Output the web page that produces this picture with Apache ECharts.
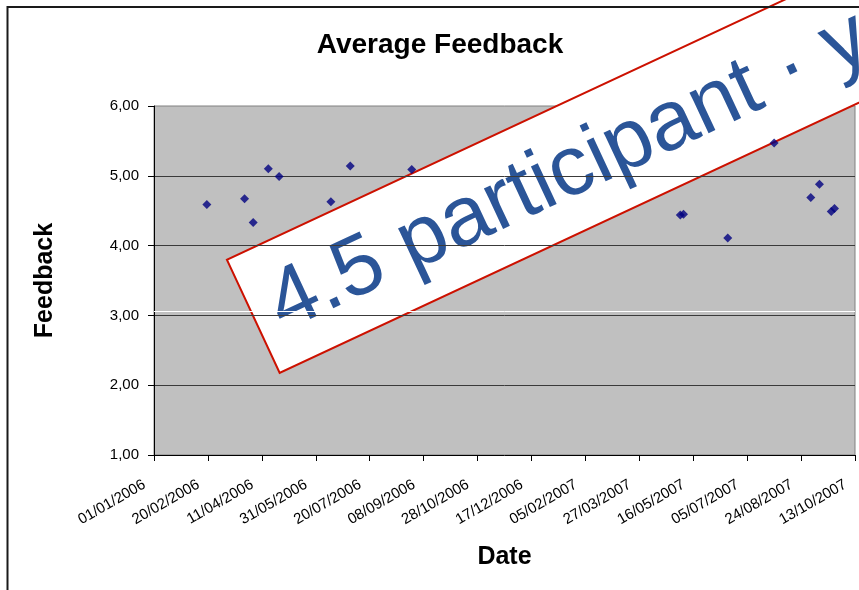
<!DOCTYPE html>
<html>
<head>
<meta charset="utf-8">
<script src="https://cdn.jsdelivr.net/npm/echarts@6/dist/echarts.min.js"></script>
<style>
html,body{margin:0;padding:0;background:#fff;}
#chart{width:859px;height:590px;}
</style>
</head>
<body>
<div id="chart"></div>
<script>
// ---- data ----
const dates = ['2006-02-19','2006-03-26','2006-04-03','2006-04-17','2006-04-27','2006-06-14','2006-07-02','2006-08-28','2007-05-04','2007-05-07','2007-06-17','2007-07-30','2007-09-02','2007-09-10','2007-09-21','2007-09-24'];
const feedback = [4.59,4.67,4.33,5.10,4.99,4.63,5.14,5.09,4.44,4.45,4.11,5.47,4.69,4.88,4.49,4.53];
const xStartDate = '2006-01-01';
const xEndDate = '2007-10-13';
const xStepDays = 50;
const yMin = 1, yMax = 6, yStep = 1;
const titleText = 'Average Feedback';
const xName = 'Date';
const yName = 'Feedback';
const overlayText = '4.5 participant · y';
const whiteLineValue = 3.06;

// ---- helpers ----
const DAY = 86400000;
function parseUTC(s){ const p = s.split('-').map(Number); return Date.UTC(p[0], p[1]-1, p[2]); }
const origin = parseUTC(xStartDate);
function toDay(s){ return Math.round((parseUTC(s) - origin) / DAY); }
function fmtDay(d){
  const t = new Date(origin + d * DAY);
  const dd = String(t.getUTCDate()).padStart(2,'0');
  const mm = String(t.getUTCMonth()+1).padStart(2,'0');
  return dd + '/' + mm + '/' + t.getUTCFullYear();
}
const points = dates.map((d,i) => [toDay(d), feedback[i]]);
const FONT = '"Liberation Sans", Arial, sans-serif';

const chart = echarts.init(document.getElementById('chart'), null, {renderer:'canvas'});
chart.setOption({
  animation: false,
  backgroundColor: '#ffffff',
  title: {
    text: titleText,
    left: 440, top: 31, padding: 0,
    textAlign: 'center',
    textStyle: {fontFamily: FONT, fontWeight: 'bold', fontSize: 28, color: '#000'}
  },
  grid: {
    left: 154, top: 106, width: 701, height: 349,
    show: true, backgroundColor: '#c0c0c0', borderColor: '#808080', borderWidth: 1,
    containLabel: false
  },
  xAxis: {
    type: 'value',
    min: 0, max: toDay(xEndDate), interval: xStepDays,
    name: xName, nameLocation: 'middle', nameGap: 90,
    nameTextStyle: {fontFamily: FONT, fontWeight: 'bold', fontSize: 25, color: '#000'},
    axisLine: {show: true, onZero: false, lineStyle: {color: '#000', width: 1}},
    axisTick: {show: true, inside: false, length: 6, lineStyle: {color: '#000'}},
    splitLine: {show: false},
    axisLabel: {
      rotate: 30, margin: 23, padding: [0, 11, 0, 0],
      fontFamily: FONT, fontSize: 15, color: '#000',
      showMinLabel: true, showMaxLabel: true,
      formatter: v => fmtDay(v)
    }
  },
  yAxis: {
    type: 'value',
    min: yMin, max: yMax, interval: yStep,
    name: yName, nameLocation: 'middle', nameGap: 96,
    nameTextStyle: {fontFamily: FONT, fontWeight: 'bold', fontSize: 25, color: '#000'},
    axisLine: {show: true, lineStyle: {color: '#000', width: 1}},
    axisTick: {show: true, inside: false, length: 6, lineStyle: {color: '#000'}},
    splitLine: {show: true, showMinLine: false, showMaxLine: false, lineStyle: {color: '#3a3a3a', width: 1}},
    axisLabel: {
      margin: 15, fontFamily: FONT, fontSize: 15, color: '#000',
      formatter: v => v.toFixed(2).replace('.', ',')
    }
  },
  series: [{
    type: 'scatter',
    data: points,
    symbol: 'diamond',
    symbolSize: 9,
    itemStyle: {color: '#000080'},
    markLine: {
      silent: true, symbol: ['none','none'], label: {show: false},
      lineStyle: {color: '#ffffff', width: 1, type: 'solid'},
      data: [{yAxis: whiteLineValue}]
    },
    z: 3
  }],
  graphic: [
    {
      type: 'rect', silent: true, z: 50,
      shape: {x: 7.5, y: 7, width: 1000, height: 1000},
      style: {fill: 'none', stroke: '#1a1a1a', lineWidth: 2}
    },
    {
      type: 'group', x: 253.3, y: 316.3, rotation: 25 * Math.PI / 180, z: 100, silent: true,
      children: [
        {type: 'rect', shape: {x: 0, y: -62.4, width: 1000, height: 124.8},
         style: {fill: '#ffffff', stroke: '#cc1100', lineWidth: 2}},
        {type: 'text', x: 21, y: 3,
         style: {text: overlayText, fill: '#2b5598', font: '85px ' + FONT, align: 'left', verticalAlign: 'middle'}}
      ]
    }
  ]
});
</script>
</body>
</html>
